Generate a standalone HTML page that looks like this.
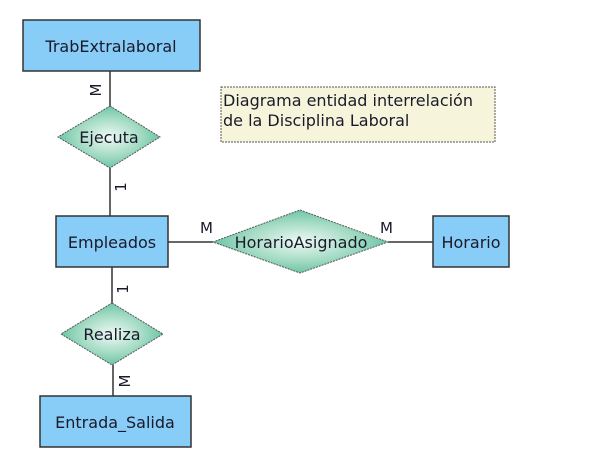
<!DOCTYPE html>
<html><head><meta charset="utf-8"><style>
html,body{margin:0;padding:0;background:#fff;}
svg{display:block;}
text{font-family:"DejaVu Sans","Liberation Sans",sans-serif;fill:#1a1a2a;}
</style></head><body>
<svg width="606" height="455" viewBox="0 0 606 455" xmlns="http://www.w3.org/2000/svg">
<defs>
<radialGradient id="g" cx="50%" cy="50%" r="50%">
<stop offset="0" stop-color="#eef9f4"/><stop offset="0.6" stop-color="#a6dcc6"/><stop offset="1" stop-color="#6cc6a6"/>
</radialGradient>
</defs>
<g stroke="#333" stroke-width="1.5" fill="none">
<line x1="110" y1="71" x2="110" y2="106"/>
<line x1="110" y1="168" x2="110" y2="216"/>
<line x1="112" y1="267" x2="112" y2="303"/>
<line x1="113" y1="365" x2="113" y2="396"/>
<line x1="168" y1="242" x2="213" y2="242"/>
<line x1="388" y1="242" x2="433" y2="242"/>
</g>
<g fill="#88ccf8" stroke="#333" stroke-width="1.5">
<rect x="23" y="20" width="177" height="51"/>
<rect x="56" y="216" width="112" height="51"/>
<rect x="433" y="216" width="76" height="51"/>
<rect x="40" y="396" width="151" height="51"/>
</g>
<g fill="url(#g)" stroke="#555" stroke-width="1" stroke-dasharray="2,1">
<polygon points="110,106 160,137 110,168 58,137"/>
<polygon points="300,210 388,242 300,273 213,242"/>
<polygon points="112,303 163,334 112,365 61,334"/>
</g>
<rect x="221" y="87" width="274" height="55" fill="#f6f5dc" stroke="#555" stroke-dasharray="2,1"/>
<g font-size="16" text-anchor="middle">
<text x="111" y="52">TrabExtralaboral</text>
<text x="112" y="248">Empleados</text>
<text x="471" y="248">Horario</text>
<text x="115" y="428">Entrada_Salida</text>
<text x="109" y="143">Ejecuta</text>
<text x="301" y="248">HorarioAsignado</text>
<text x="112" y="340">Realiza</text>
</g>
<g font-size="16">
<text x="223" y="106">Diagrama entidad interrelación</text>
<text x="223" y="126">de la Disciplina Laboral</text>
</g>
<g font-size="15">
<text x="200" y="233">M</text>
<text x="380" y="233">M</text>
</g>
<g font-size="15" text-anchor="middle">
<text transform="translate(101,90) rotate(-90)">M</text>
<text transform="translate(126,187) rotate(-90)">1</text>
<text transform="translate(128,289) rotate(-90)">1</text>
<text transform="translate(130,381) rotate(-90)">M</text>
</g>
</svg>
</body></html>
